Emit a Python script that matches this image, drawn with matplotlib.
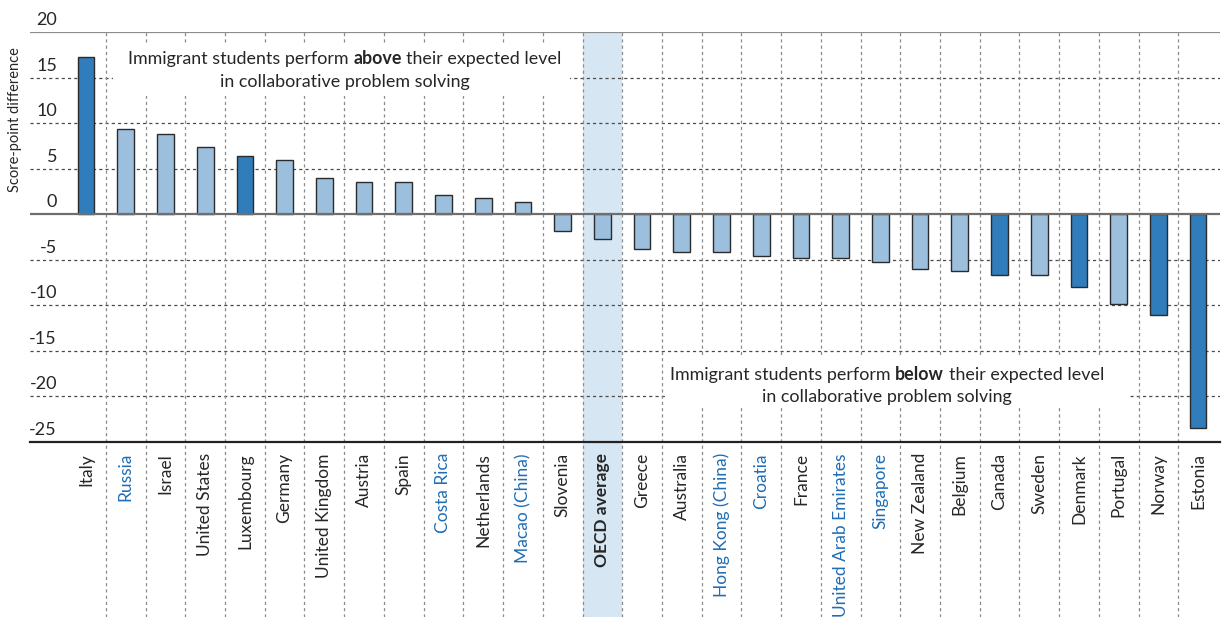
import matplotlib
matplotlib.use("Agg")
import matplotlib.pyplot as plt
import matplotlib.transforms as mtransforms
from matplotlib.patches import Rectangle

plt.rcParams['font.family'] = ['Lato', 'DejaVu Sans']

# data
countries = ["Italy", "Russia", "Israel", "United States", "Luxembourg", "Germany",
             "United Kingdom", "Austria", "Spain", "Costa Rica", "Netherlands",
             "Macao (China)", "Slovenia", "OECD average", "Greece", "Australia",
             "Hong Kong (China)", "Croatia", "France", "United Arab Emirates",
             "Singapore", "New Zealand", "Belgium", "Canada", "Sweden", "Denmark",
             "Portugal", "Norway", "Estonia"]
values = [17.3, 9.3, 8.8, 7.4, 6.4, 5.9, 4.0, 3.5, 3.5, 2.1, 1.8, 1.3, -1.8, -2.7,
          -3.8, -4.2, -4.2, -4.6, -4.8, -4.8, -5.2, -6.0, -6.2, -6.7, -6.7, -8.0,
          -9.9, -11.1, -23.5]
significant = ["Italy", "Luxembourg", "Canada", "Denmark", "Norway", "Estonia"]
partners = ["Russia", "Costa Rica", "Macao (China)", "Hong Kong (China)", "Croatia",
            "United Arab Emirates", "Singapore"]
yticks = [20, 15, 10, 5, 0, -5, -10, -15, -20, -25]

DARK = "#317dbb"
LIGHT = "#9bbfdd"
TXT = "#262626"
BLUE = "#1f6db5"
BAND = "#d6e6f3"

fig = plt.figure(figsize=(12.25, 6.17), dpi=100)
ax = fig.add_axes([30/1225, 1-442/617, 1190/1225, 410/617])

n = len(countries)
x = list(range(n))
ax.set_xlim(-1.41, n - 1 + 0.55)
ax.set_ylim(-25, 20)

for s in ax.spines.values():
    s.set_visible(False)

# grid, done by hand
for v in yticks:
    if v == 20:
        ax.axhline(v, color="#8c8c8c", lw=1.6, zorder=1)
    elif v == 0:
        ax.axhline(v, color="#6e6e6e", lw=1.6, zorder=3.5)
    elif v == -25:
        ax.axhline(v, color="#222222", lw=1.6, zorder=3.5, clip_on=False)
    else:
        ax.axhline(v, color="#4a4a4a", lw=0.9, ls=(0, (2.5, 2.5)), zorder=1)

low = -(617 - 442) / 410
trans_v = mtransforms.blended_transform_factory(ax.transData, ax.transAxes)
for i in range(n - 1):
    ax.plot([i + 0.5, i + 0.5], [low, 1], transform=trans_v, color="#8a8a8a",
            lw=0.9, ls=(0, (2.5, 2.5)), clip_on=False, zorder=1)

# OECD average band
k = countries.index("OECD average")
ax.add_patch(Rectangle((k - 0.5, low), 1, 1 - low, transform=trans_v,
                       facecolor=BAND, edgecolor="none", clip_on=False, zorder=0))

colors = [DARK if c in significant else LIGHT for c in countries]
ax.bar(x, values, width=0.42, color=colors, edgecolor="#2b2b2b", linewidth=1.0, zorder=3)

# y tick labels sitting above the lines
for v in yticks:
    tr = mtransforms.offset_copy(ax.get_yaxis_transform(), fig=fig, x=0, y=4, units='dots')
    ax.text(27/1190, v, str(v), transform=tr, ha='right', va='bottom',
            fontsize=13, color=TXT)
ax.set_yticks([])

ax.set_xticks(x)
ax.set_xticklabels(countries, rotation=90, ha='center', va='top', fontsize=12.5)
ax.tick_params(axis='x', length=0, pad=8)
for lab in ax.get_xticklabels():
    if lab.get_text() in partners:
        lab.set_color(BLUE)
    else:
        lab.set_color(TXT)
    if lab.get_text() == "OECD average":
        lab.set_fontweight('bold')

fig.text(15/1225, 1-120/617, "Score-point difference", rotation=90, ha='center',
         va='center', fontsize=10.5, color=TXT)


def ax_xy(px, py):
    return (px - 30) / 1190, (442 - py) / 410


def mixed_line(cx, cy, parts, size=12.9):
    r = fig.canvas.get_renderer()
    xa, ya = ax_xy(cx, cy)
    # width of one space
    a = ax.text(0, 0, "aa", fontsize=size)
    b = ax.text(0, 0, "a a", fontsize=size)
    gap = b.get_window_extent(r).width - a.get_window_extent(r).width
    a.remove()
    b.remove()
    texts = []
    for s, w in parts:
        t = ax.text(xa, ya, s, fontsize=size, fontweight=w, ha='left', va='center',
                    transform=ax.transAxes, color=TXT, zorder=6)
        texts.append(t)
    widths = [t.get_window_extent(r).width for t in texts]
    off = -(sum(widths) + gap * (len(texts) - 1)) / 2
    for t, w in zip(texts, widths):
        t.set_transform(mtransforms.offset_copy(ax.transAxes, fig=fig, x=off, y=0, units='dots'))
        off += w + gap


def white_box(px0, py0, px1, py1):
    x0, y1 = ax_xy(px0, py0)
    x1, y0 = ax_xy(px1, py1)
    ax.add_patch(Rectangle((x0, y0), x1 - x0, y1 - y0, transform=ax.transAxes,
                           facecolor="white", edgecolor="none", zorder=2))


white_box(113, 45, 570, 96)
mixed_line(345, 59, [("Immigrant students perform", 'normal'), ("above", 'bold'),
                     ("their expected level", 'normal')])
mixed_line(345, 82, [("in collaborative problem solving", 'normal')])

white_box(665, 358, 1130, 408)
mixed_line(887, 375, [("Immigrant students perform", 'normal'), ("below", 'bold'),
                      ("their expected level", 'normal')])
mixed_line(887, 397, [("in collaborative problem solving", 'normal')])

fig.savefig("out.png", dpi=100)
